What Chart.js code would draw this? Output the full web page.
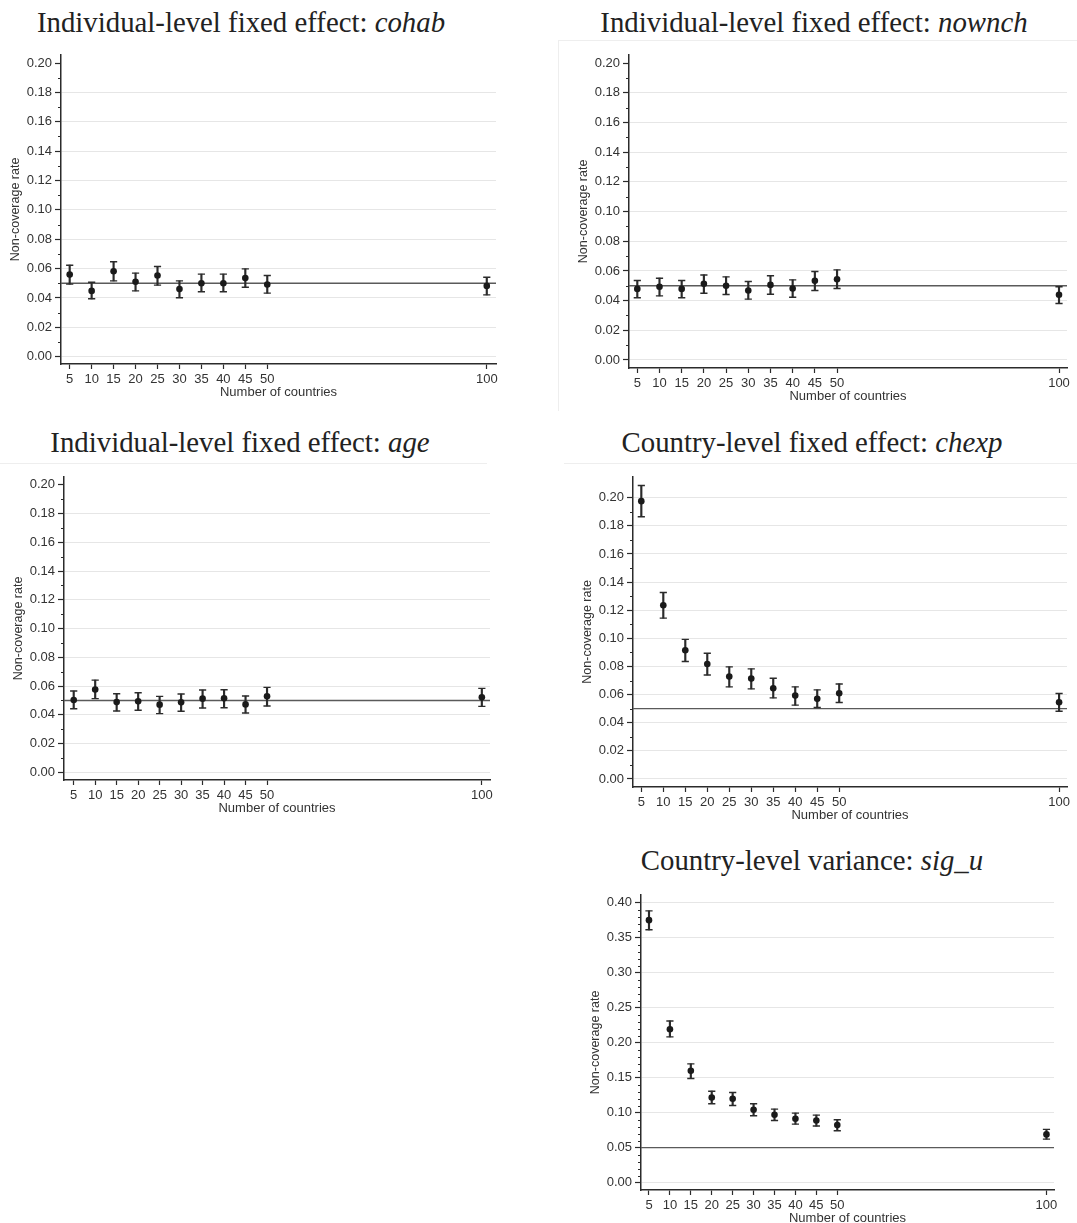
<!DOCTYPE html>
<html><head><meta charset="utf-8">
<script src="https://cdn.jsdelivr.net/npm/chart.js@4.4.1/dist/chart.umd.min.js"></script>
<style>
html,body{margin:0;padding:0;background:#fff}
body{width:1077px;height:1223px;position:relative;overflow:hidden}
.t{position:absolute;font-family:"Liberation Serif","Times New Roman",serif;font-size:28.8px;line-height:28.8px;color:#222;white-space:nowrap;transform:translateX(-50%)}
.edge{position:absolute;border-color:#eeeeee;border-style:solid;border-width:0}
</style></head><body>
<div class="edge" style="left:558px;top:40px;width:519px;height:370px;border-top-width:1px;border-left-width:1px"></div>
<div class="edge" style="left:0px;top:463px;width:487px;height:0;border-top-width:1px"></div>
<div class="edge" style="left:564px;top:463px;width:513px;height:0;border-top-width:1px"></div>
<div class="t" style="left:241px;top:8px">Individual-level fixed effect: <i>cohab</i></div>
<div class="t" style="left:814px;top:8px">Individual-level fixed effect: <i>nownch</i></div>
<div class="t" style="left:240px;top:428px">Individual-level fixed effect: <i>age</i></div>
<div class="t" style="left:812px;top:428px">Country-level fixed effect: <i>chexp</i></div>
<div class="t" style="left:812px;top:846px">Country-level variance: <i>sig_u</i></div>
<script>
// ---------- data ----------
const countries = [5, 10, 15, 20, 25, 30, 35, 40, 45, 50, 100];
const xTickValues = [5, 10, 15, 20, 25, 30, 35, 40, 45, 50, 100];
const yTicksFixed = [0.00, 0.02, 0.04, 0.06, 0.08, 0.10, 0.12, 0.14, 0.16, 0.18, 0.20];
const yTicksVar = [0.00, 0.05, 0.10, 0.15, 0.20, 0.25, 0.30, 0.35, 0.40];
const minorFixed = [0.01, 0.03, 0.05, 0.07, 0.09, 0.11, 0.13, 0.15, 0.17, 0.19];
const minorVar = [0.01, 0.02, 0.03, 0.04, 0.06, 0.07, 0.08, 0.09, 0.11, 0.12, 0.13, 0.14,
                  0.16, 0.17, 0.18, 0.19, 0.21, 0.22, 0.23, 0.24, 0.26, 0.27, 0.28, 0.29,
                  0.31, 0.32, 0.33, 0.34, 0.36, 0.37, 0.38, 0.39];
const nominalRate = 0.05;

const cohabRate = [0.0559, 0.0448, 0.0582, 0.0510, 0.0553, 0.0460, 0.0500, 0.0500, 0.0535, 0.0491, 0.0482];
const cohabLow  = [0.0494, 0.0394, 0.0516, 0.0448, 0.0487, 0.0401, 0.0442, 0.0442, 0.0473, 0.0433, 0.0421];
const cohabHigh = [0.0623, 0.0507, 0.0646, 0.0569, 0.0614, 0.0516, 0.0562, 0.0562, 0.0598, 0.0553, 0.0541];

const nownchRate = [0.0479, 0.0493, 0.0479, 0.0513, 0.0500, 0.0468, 0.0506, 0.0482, 0.0533, 0.0544, 0.0439];
const nownchLow  = [0.0419, 0.0432, 0.0419, 0.0450, 0.0441, 0.0410, 0.0443, 0.0423, 0.0468, 0.0482, 0.0381];
const nownchHigh = [0.0535, 0.0551, 0.0535, 0.0573, 0.0560, 0.0529, 0.0567, 0.0540, 0.0596, 0.0607, 0.0493];

const ageRate = [0.0503, 0.0577, 0.0489, 0.0494, 0.0471, 0.0487, 0.0513, 0.0515, 0.0473, 0.0529, 0.0522];
const ageLow  = [0.0443, 0.0513, 0.0427, 0.0432, 0.0409, 0.0425, 0.0448, 0.0450, 0.0413, 0.0462, 0.0459];
const ageHigh = [0.0566, 0.0642, 0.0547, 0.0554, 0.0529, 0.0545, 0.0573, 0.0575, 0.0531, 0.0591, 0.0584];

const chexpRate = [0.1976, 0.1236, 0.0915, 0.0818, 0.0728, 0.0714, 0.0645, 0.0593, 0.0570, 0.0610, 0.0546];
const chexpLow  = [0.1865, 0.1144, 0.0835, 0.0740, 0.0655, 0.0641, 0.0577, 0.0525, 0.0508, 0.0544, 0.0482];
const chexpHigh = [0.2087, 0.1326, 0.0993, 0.0894, 0.0797, 0.0783, 0.0716, 0.0655, 0.0634, 0.0676, 0.0608];

const sigRate = [0.3748, 0.2190, 0.1596, 0.1216, 0.1197, 0.1040, 0.0969, 0.0912, 0.0888, 0.0822, 0.0689];
const sigLow  = [0.3610, 0.2081, 0.1487, 0.1126, 0.1102, 0.0955, 0.0888, 0.0836, 0.0808, 0.0741, 0.0622];
const sigHigh = [0.3881, 0.2309, 0.1696, 0.1306, 0.1287, 0.1126, 0.1050, 0.0993, 0.0964, 0.0898, 0.0760];

// ---------- drawing ----------
const SANS = '"Liberation Sans", Arial, Helvetica, sans-serif';
const INK = '#2b2b2b';

const minorTickPlugin = {
  id: 'minorTicks',
  afterDraw(chart, args, opts) {
    const s = chart.scales.y, ctx = chart.ctx;
    ctx.save();
    ctx.strokeStyle = INK; ctx.lineWidth = 1;
    (opts.values || []).forEach(v => {
      const y = Math.round(s.getPixelForValue(v)) + 0.5;
      ctx.beginPath(); ctx.moveTo(s.right - 3, y); ctx.lineTo(s.right, y); ctx.stroke();
    });
    ctx.restore();
  }
};

function build(cfg) {
  const g = cfg.geom;
  const padT = 10, padR = 10, padB = 2, yW = 62, xH = 40;
  const cl = g.l - yW, ct = g.t - padT;
  const cw = g.r - g.l + yW + padR, ch = g.b - g.t + padT + xH + padB;
  const cv = document.createElement('canvas');
  cv.width = cw; cv.height = ch;
  cv.style.cssText = `position:absolute;left:${cl}px;top:${ct}px;width:${cw}px;height:${ch}px`;
  document.body.appendChild(cv);

  const pts = countries.map((x, i) => ({x, y: cfg.rate[i]}));
  const hi = countries.map((x, i) => ({x, y: cfg.high[i]}));
  const lo = countries.map((x, i) => ({x, y: cfg.low[i]}));
  const bars = countries.map((x, i) => ({x, y: [cfg.low[i], cfg.high[i]]}));
  const topTick = cfg.yTicks[cfg.yTicks.length - 1];

  new Chart(cv, {
    type: 'scatter',
    data: {datasets: [
      {type: 'scatter', data: pts, pointRadius: 3.3, pointBackgroundColor: '#1a1a1a', pointBorderWidth: 0, order: 0},
      {type: 'scatter', data: hi, pointStyle: 'line', pointRadius: 3.6, pointBorderColor: INK, pointBorderWidth: 1.4, order: 1},
      {type: 'scatter', data: lo, pointStyle: 'line', pointRadius: 3.6, pointBorderColor: INK, pointBorderWidth: 1.4, order: 1},
      {type: 'bar', data: bars, barThickness: 1.5, backgroundColor: INK, borderWidth: 0, grouped: false, order: 2},
      {type: 'line', data: [{x: cfg.xmin, y: nominalRate}, {x: cfg.xmax, y: nominalRate}], showLine: true,
       borderColor: '#5a5a5a', borderWidth: 1.3, pointRadius: 0, order: 3}
    ]},
    options: {
      responsive: false, animation: false,
      layout: {padding: {left: 0, top: padT, right: padR, bottom: padB}},
      plugins: {legend: {display: false}, tooltip: {enabled: false}, minorTicks: {values: cfg.minor}},
      scales: {
        x: {
          type: 'linear', min: cfg.xmin, max: cfg.xmax, offset: false,
          afterBuildTicks: s => { s.ticks = xTickValues.map(v => ({value: v})); },
          afterFit: s => { s.height = xH; },
          ticks: {callback: v => String(v), font: {family: SANS, size: 13}, color: '#333', padding: 3,
                  maxRotation: 0, autoSkip: false},
          grid: {offset: false, drawOnChartArea: false, drawTicks: true, tickLength: 5, tickColor: INK, tickWidth: 1.2},
          border: {color: INK, width: 1.5},
          title: {display: true, text: 'Number of countries', font: {family: SANS, size: 13}, color: '#333',
                  padding: {top: 0, bottom: 4.2}}
        },
        y: {
          type: 'linear', min: cfg.ymin, max: cfg.ymax,
          afterBuildTicks: s => { s.ticks = cfg.yTicks.map(v => ({value: v})); },
          afterFit: s => { s.width = yW; },
          ticks: {callback: v => Number(v).toFixed(2), font: {family: SANS, size: 13}, color: '#333', padding: 3,
                  autoSkip: false},
          grid: {
            offset: false,
            color: c => (cfg.noTopGrid && c.tick && Math.abs(c.tick.value - topTick) < 1e-9) ? 'rgba(0,0,0,0)' : '#e6e6e6',
            lineWidth: 1, drawTicks: true, tickLength: 6, tickColor: INK, tickWidth: 1.2
          },
          border: {color: INK, width: 1.5},
          title: {display: true, text: 'Non-coverage rate', font: {family: SANS, size: 12.5}, color: '#333',
                  padding: {top: 9.5, bottom: 0}}
        }
      }
    },
    plugins: [minorTickPlugin]
  });
}

build({geom: {l: 61, r: 496, t: 54, b: 364}, xmin: 3.02, xmax: 102.1, ymin: -0.005, ymax: 0.2056,
       rate: cohabRate, low: cohabLow, high: cohabHigh, yTicks: yTicksFixed, minor: minorFixed, noTopGrid: true});
build({geom: {l: 629, r: 1067, t: 54, b: 368}, xmin: 3.13, xmax: 101.8, ymin: -0.0054, ymax: 0.2056,
       rate: nownchRate, low: nownchLow, high: nownchHigh, yTicks: yTicksFixed, minor: minorFixed, noTopGrid: true});
build({geom: {l: 64, r: 490, t: 476, b: 780}, xmin: 2.74, xmax: 101.9, ymin: -0.0053, ymax: 0.2056,
       rate: ageRate, low: ageLow, high: ageHigh, yTicks: yTicksFixed, minor: minorFixed, noTopGrid: true});
build({geom: {l: 633, r: 1067, t: 476, b: 787}, xmin: 3.11, xmax: 101.8, ymin: -0.0057, ymax: 0.2149,
       rate: chexpRate, low: chexpLow, high: chexpHigh, yTicks: yTicksFixed, minor: minorFixed, noTopGrid: false});
build({geom: {l: 641, r: 1054, t: 894, b: 1190}, xmin: 3.09, xmax: 101.8, ymin: -0.0105, ymax: 0.411,
       rate: sigRate, low: sigLow, high: sigHigh, yTicks: yTicksVar, minor: minorVar, noTopGrid: false});
</script>
</body></html>
